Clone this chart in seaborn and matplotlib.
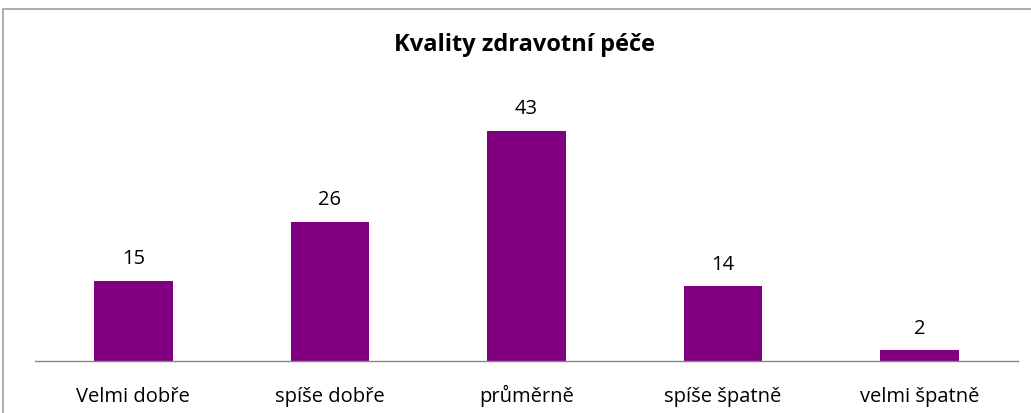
import matplotlib
matplotlib.use("Agg")
import matplotlib.pyplot as plt
import seaborn as sns
import pandas as pd
from matplotlib.patches import Rectangle

categories = ["Velmi dobře", "spíše dobře", "průměrně", "spíše špatně", "velmi špatně"]
values = [15, 26, 43, 14, 2]
title = "Kvality zdravotní péče"

df = pd.DataFrame({"kategorie": categories, "pocet": values})

sns.set_style("white")
plt.rcParams["font.family"] = ["Open Sans", "DejaVu Sans"]
plt.rcParams["text.color"] = "black"
plt.rcParams["xtick.color"] = "black"

fig = plt.figure(figsize=(10.31, 4.14), dpi=100)
ax = fig.add_axes([35 / 1031, 52 / 414, 983 / 1031, 267.5 / 414])

sns.barplot(data=df, x="kategorie", y="pocet", color="#800080", width=0.4,
            saturation=1, ax=ax, linewidth=0)

for c in ax.containers:
    ax.bar_label(c, padding=9, fontsize=14.5, color="black")

ax.set_xlim(-0.5, 4.5)
ax.set_ylim(0, 50)
ax.set_xlabel("")
ax.set_ylabel("")
ax.set_yticks([])
ax.tick_params(axis="x", length=0, labelsize=14.5, pad=29)
for lbl in ax.get_xticklabels():
    lbl.set_va("baseline")
for s in ["top", "right", "left"]:
    ax.spines[s].set_visible(False)
ax.spines["bottom"].set_color("#868686")
ax.spines["bottom"].set_linewidth(1)

fig.text(525 / 1031, 1 - 45 / 414, title, ha="center", va="center",
         fontsize=17, fontweight="bold", color="black")

# outer chart frame
fig.patches.append(Rectangle((3 / 1031, -0.1), 1.1, 1 - 10 / 414 + 0.1,
                             transform=fig.transFigure, fill=False,
                             edgecolor="#a0a0a0", linewidth=1.2))

fig.savefig("out.png", dpi=100)
